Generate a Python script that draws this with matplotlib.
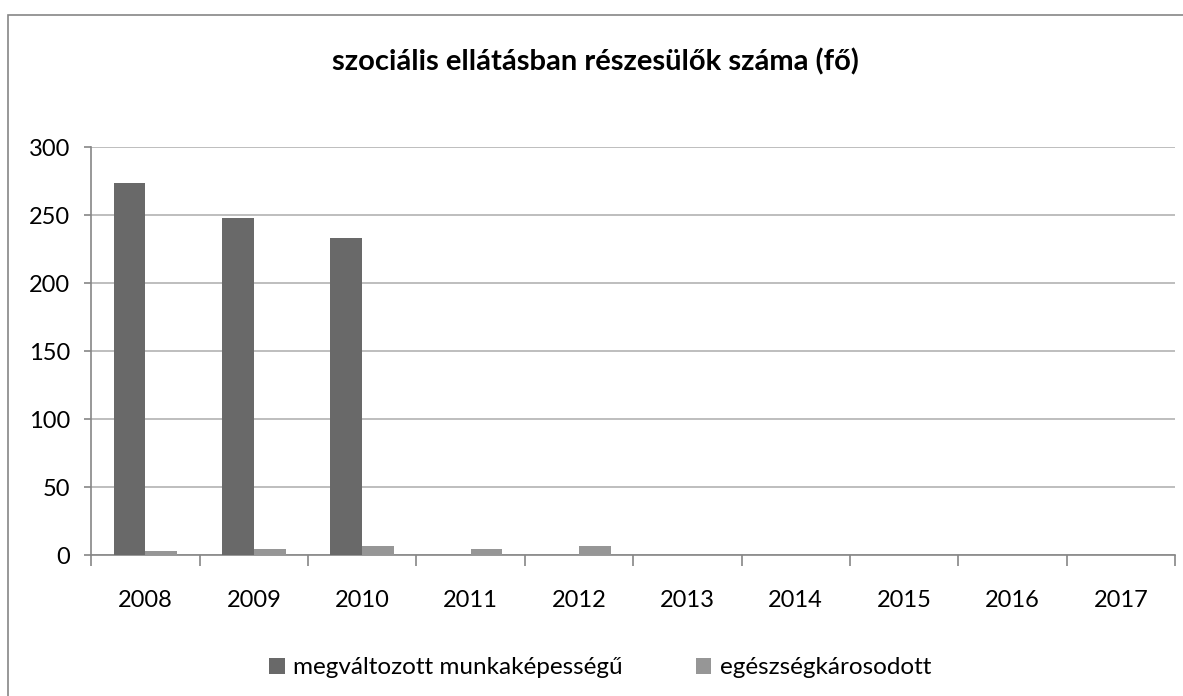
import matplotlib.pyplot as plt
import numpy as np
from matplotlib.patches import Rectangle

years = ['2008', '2009', '2010', '2011', '2012', '2013', '2014', '2015', '2016', '2017']
megvaltozott = [274, 248, 233, 0, 0, 0, 0, 0, 0, 0]
egeszseg = [3, 5, 7, 5, 7, 0, 0, 0, 0, 0]
series_names = ['megváltozott munkaképességű', 'egészségkárosodott']

plt.rcParams['font.family'] = ['Lato', 'DejaVu Sans']

W, H = 1183, 696
fig = plt.figure(figsize=(W / 100, H / 100), dpi=100)

# chart frame, runs off the right and bottom edges
fig.patches.append(Rectangle((8 / W, -0.2), 1.2, 1.2 - 15 / H, transform=fig.transFigure,
                             fill=False, edgecolor='#868686', linewidth=1.2))

left, right, top, bottom = 91.3, 1175, 147.3, 555.3
ax = fig.add_axes([left / W, 1 - bottom / H, (right - left) / W, (bottom - top) / H])

x = np.arange(len(years))
bw = 0.293
ax.bar(x - bw / 2, megvaltozott, bw, color='#696969', label=series_names[0], zorder=3)
ax.bar(x + bw / 2, egeszseg, bw, color='#969696', label=series_names[1], zorder=3)

ax.set_xlim(-0.5, len(years) - 0.5)
ax.set_ylim(0, 300)
ax.set_yticks(range(0, 301, 50))
ax.yaxis.grid(True, color='#b3b3b3', linewidth=1.2, zorder=0)
ax.set_axisbelow(True)

ax.set_xticks(x)
ax.set_xticklabels(years)
ax.set_xticks(np.arange(-0.5, len(years)), minor=True)
ax.tick_params(axis='x', which='major', length=0, pad=25, labelsize=17)
ax.tick_params(axis='x', which='minor', length=8, width=1.2, color='#868686')
ax.tick_params(axis='y', length=5, width=1.2, color='#868686', labelsize=17, pad=10)

for side in ['top', 'right']:
    ax.spines[side].set_visible(False)
for side in ['left', 'bottom']:
    ax.spines[side].set_color('#868686')
    ax.spines[side].set_linewidth(1.2)

fig.text(595 / W, 1 - 62 / H, 'szociális ellátásban részesülők száma (fő)',
         ha='center', va='center', fontsize=21, fontweight='bold')

fig.legend(loc='center', bbox_to_anchor=(600 / W, 1 - 668 / H), ncol=2, frameon=False,
           fontsize=17.5, handlelength=0.65, handleheight=0.65, handletextpad=0.35,
           columnspacing=3.0)

fig.savefig('out.png', dpi=100)
